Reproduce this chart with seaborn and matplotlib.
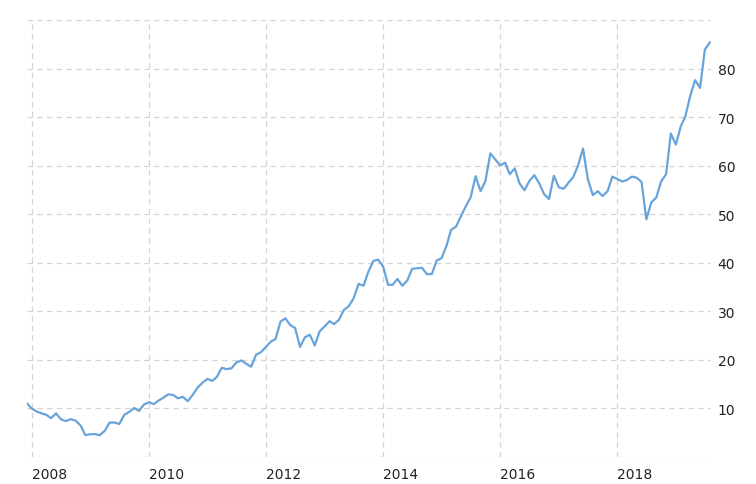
import pandas as pd
import numpy as np
import matplotlib
matplotlib.use("Agg")
import matplotlib.pyplot as plt
import matplotlib.transforms as mtransforms
import seaborn as sns

# ---------------------------------------------------------
# data (monthly)
# ---------------------------------------------------------
start_month = "2007-11-30"
values = [
    11.1, 10.0, 9.4, 9.0, 8.7, 8.0, 9.0, 7.8, 7.4, 7.8,
    7.5, 6.5, 4.5, 4.7, 4.7, 4.5, 5.4, 7.1, 7.1, 6.8,
    8.7, 9.3, 10.1, 9.5, 10.8, 11.3, 10.9, 11.6, 12.2, 12.9,
    12.8, 12.1, 12.4, 11.5, 12.8, 14.3, 15.3, 16.1, 15.7, 16.5,
    18.4, 18.1, 18.3, 19.5, 19.9, 19.2, 18.6, 21.1, 21.6, 22.7,
    23.8, 24.3, 27.9, 28.6, 27.2, 26.6, 22.7, 24.7, 25.2, 23.0,
    25.9, 26.9, 28.0, 27.4, 28.3, 30.3, 31.1, 32.7, 35.7, 35.3,
    38.2, 40.4, 40.7, 39.3, 35.5, 35.5, 36.7, 35.3, 36.4, 38.8,
    38.9, 39.0, 37.7, 37.7, 40.5, 41.0, 43.6, 46.8, 47.5, 49.6,
    51.7, 53.5, 57.9, 54.8, 56.9, 62.6, 61.4, 60.1, 60.7, 58.3,
    59.5, 56.4, 55.0, 56.9, 58.1, 56.4, 54.2, 53.2, 58.0, 55.6,
    55.3, 56.5, 57.7, 60.1, 63.6, 57.3, 54.0, 54.8, 53.8, 54.8,
    57.8, 57.3, 56.8, 57.1, 57.8, 57.6, 56.7, 49.0, 52.5, 53.5,
    56.8, 58.3, 66.7, 64.4, 68.2, 70.2, 74.5, 77.7, 76.1, 84.0,
    85.5,
]
y_ticks = [0, 10, 20, 30, 40, 50, 60, 70, 80, 90]
y_labels = ["", "10", "20", "30", "40", "50", "60", "70", "80", ""]
x_years = [2008, 2010, 2012, 2014, 2016, 2018]

dates = pd.date_range(start_month, periods=len(values), freq="ME")
df = pd.DataFrame({"date": dates, "value": values})

# ---------------------------------------------------------
# style
# ---------------------------------------------------------
sns.set_style("white")
plt.rcParams["font.family"] = ["DejaVu Sans"]
plt.rcParams["lines.scale_dashes"] = False

fig = plt.figure(figsize=(7.56, 4.85), dpi=100)
ax = fig.add_axes([0.0353, 0.0557, 0.9047, 0.9])

sns.lineplot(data=df, x="date", y="value", ax=ax, color="#68a4db", linewidth=1.6)

ax.set_ylim(0, 90)
ax.set_xlim(dates[0], pd.Timestamp("2019-08-05"))

ax.set_yticks(y_ticks)
ax.set_yticklabels(y_labels)
ax.yaxis.tick_right()
ax.set_xticks([pd.Timestamp(f"{y}-01-01") for y in x_years])
ax.set_xticklabels([str(y) for y in x_years])

# year labels sit just right of their grid line
shift = mtransforms.ScaledTranslation(3 / 100, 0, fig.dpi_scale_trans)
for lab in ax.get_xticklabels():
    lab.set_horizontalalignment("left")
    lab.set_transform(lab.get_transform() + shift)

ax.tick_params(axis="y", length=0, pad=5, labelsize=10, labelcolor="#222222")
ax.tick_params(axis="x", length=0, pad=7, labelsize=10, labelcolor="#222222")

dash = (0, (4.0, 3.0))
ax.grid(True, axis="both", color="#d5d5d5", linewidth=0.9, linestyle=dash)
ax.set_axisbelow(True)

for s in ax.spines.values():
    s.set_visible(False)

ax.set_xlabel("")
ax.set_ylabel("")

fig.savefig("out.png", dpi=100)
